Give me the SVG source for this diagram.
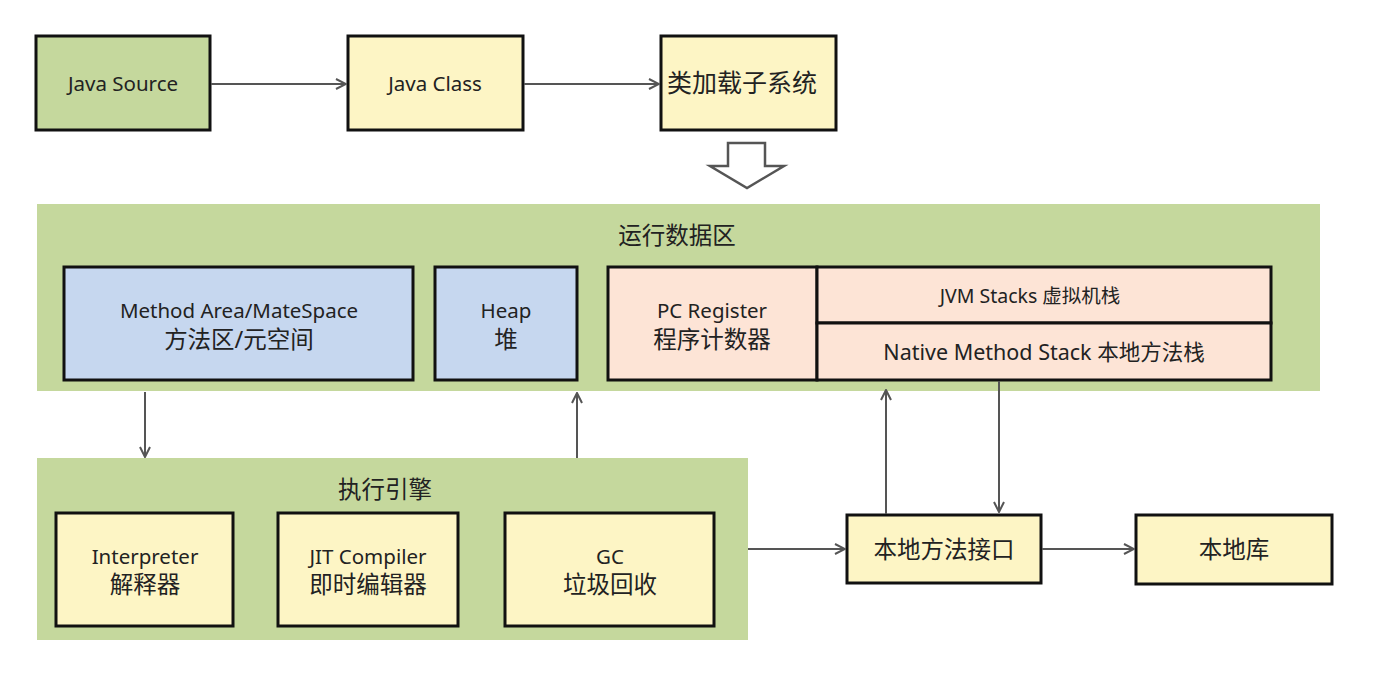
<svg xmlns="http://www.w3.org/2000/svg" width="1386" height="690" viewBox="0 0 1386 690">
<defs>
<marker id="arr" viewBox="0 0 12 12" refX="11" refY="6" markerWidth="12" markerHeight="12" markerUnits="userSpaceOnUse" orient="auto">
<path d="M1,1 L11,6 L1,11" fill="none" stroke="#555" stroke-width="2"/>
</marker>
<style>
.box{stroke:#111;stroke-width:3}
.g{fill:#c5d89d}
.y{fill:#fdf5c5}
.b{fill:#c6d7ef}
.p{fill:#fde4d6}
.region{fill:#c5d89d}
text{font-family:"Noto Sans","Noto Sans CJK SC",sans-serif;fill:#222;text-anchor:middle}
.t{font-size:20.5px}
.c{font-size:23.5px}
.conn{stroke:#555;stroke-width:2;fill:none;marker-end:url(#arr)}
</style>
</defs>
<rect width="1386" height="690" fill="#fff"/>
<g id="runtime-area">
<rect class="region" x="37" y="204" width="1283" height="187"/>
<text class="c" x="677" y="244">运行数据区</text>
</g>
<g id="exec-engine">
<rect class="region" x="37" y="458" width="711" height="182"/>
<text class="c" x="385" y="498">执行引擎</text>
</g>
<g id="java-source"><rect class="box g" x="36" y="36" width="174" height="94"/><text class="t" x="123" y="91">Java Source</text></g>
<g id="java-class"><rect class="box y" x="348" y="36" width="175" height="94"/><text class="t" x="435" y="91">Java Class</text></g>
<g id="class-loader"><rect class="box y" x="661" y="36" width="175" height="94"/><text class="c" x="742" y="92" style="font-size:25px">类加载子系统</text></g>
<g id="big-arrow"><path d="M728,143 L765,143 L765,166 L784,166 L747,188 L710,166 L728,166 Z" fill="#fff" stroke="#555" stroke-width="2.5" stroke-linejoin="miter"/></g>
<g id="method-area"><rect class="box b" x="64" y="267" width="349" height="113"/><text class="t" x="239" y="318">Method Area/MateSpace</text><text class="c" x="239" y="348">方法区/元空间</text></g>
<g id="heap"><rect class="box b" x="435" y="267" width="142" height="113"/><text class="t" x="506" y="318">Heap</text><text class="c" x="506" y="348">堆</text></g>
<g id="pc-register"><rect class="box p" x="608" y="267" width="209" height="113"/><text class="t" x="712" y="318">PC Register</text><text class="c" x="712" y="348">程序计数器</text></g>
<g id="jvm-stacks"><rect class="box p" x="817" y="267" width="454" height="56"/><text x="1030" y="303" style="font-size:19.5px">JVM Stacks 虚拟机栈</text></g>
<g id="native-stack"><rect class="box p" x="817" y="323" width="454" height="57"/><text x="1044" y="360" style="font-size:21.5px">Native Method Stack 本地方法栈</text></g>
<g id="interpreter"><rect class="box y" x="56" y="513" width="177" height="113"/><text class="t" x="145" y="564">Interpreter</text><text class="c" x="145" y="593">解释器</text></g>
<g id="jit"><rect class="box y" x="278" y="513" width="180" height="113"/><text class="t" x="368" y="564">JIT Compiler</text><text class="c" x="368" y="593">即时编辑器</text></g>
<g id="gc"><rect class="box y" x="505" y="513" width="209" height="113"/><text class="t" x="610" y="564">GC</text><text class="c" x="610" y="593">垃圾回收</text></g>
<g id="jni"><rect class="box y" x="847" y="515" width="194" height="68"/><text class="c" x="944" y="558">本地方法接口</text></g>
<g id="native-lib"><rect class="box y" x="1136" y="515" width="196" height="69"/><text class="c" x="1234" y="558">本地库</text></g>
<g id="connectors">
<line class="conn" x1="211" y1="84" x2="346" y2="84"/>
<line class="conn" x1="524" y1="84" x2="659" y2="84"/>
<line class="conn" x1="145" y1="392" x2="145" y2="457"/>
<line class="conn" x1="577" y1="458" x2="577" y2="393"/>
<line class="conn" x1="748" y1="549" x2="845" y2="549"/>
<line class="conn" x1="1042" y1="549" x2="1134" y2="549"/>
<line class="conn" x1="886" y1="514" x2="886" y2="390"/>
<line class="conn" x1="999" y1="381" x2="999" y2="512"/>
</g>
</svg>
